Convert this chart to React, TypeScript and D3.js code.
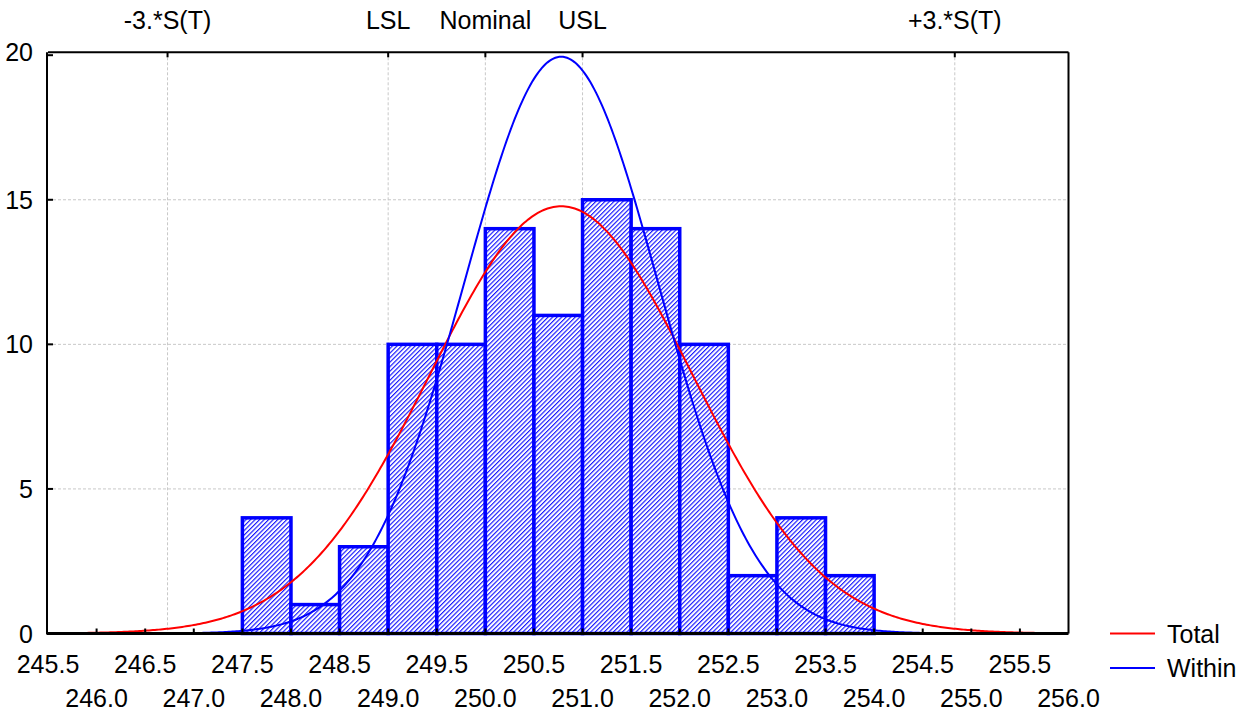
import React from "react";
import * as d3 from "d3";

const binStarts = [247.5, 248.0, 248.5, 249.0, 249.5, 250.0, 250.5, 251.0, 251.5, 252.0, 252.5, 253.0, 253.5];
const counts = [4, 1, 3, 10, 10, 14, 11, 15, 14, 10, 2, 4, 2];
const binWidth = 0.5;

const upperTickLabels = ["245.5", "246.5", "247.5", "248.5", "249.5", "250.5", "251.5", "252.5", "253.5", "254.5", "255.5"];
const lowerTickLabels = ["246.0", "247.0", "248.0", "249.0", "250.0", "251.0", "252.0", "253.0", "254.0", "255.0", "256.0"];
const yTicks = [0, 5, 10, 15, 20];

const specLabels = ["-3.*S(T)", "LSL", "Nominal", "USL", "+3.*S(T)"];
const specValues = [246.73, 249.0, 250.0, 251.0, 254.83];

const fitMean = 250.78;
const sigmaTotal = 1.35;
const sigmaWithin = 1.0;
const curveNames = ["Total", "Within"];
const curveColors = ["#ff0000", "#0000ff"];

const W = 1240;
const H = 711;
const FONT = "Arimo, 'Liberation Sans', Arial, sans-serif";

export default function App() {
  const x = d3.scaleLinear().domain([245.5, 256.0]).range([48, 1068.5]);
  const y = d3.scaleLinear().domain([0, 20.1]).range([633.5, 52.3]);
  const total = d3.sum(counts);
  const scaleFactor = total * binWidth;

  const pdf = (v: number, s: number) =>
    (scaleFactor / (s * Math.sqrt(2 * Math.PI))) * Math.exp(-0.5 * ((v - fitMean) / s) ** 2);

  const xs = d3.range(245.5, 256.0001, 0.02);
  const line = d3
    .line<number[]>()
    .x((d) => x(d[0]))
    .y((d) => y(d[1]));
  const curves = [sigmaTotal, sigmaWithin].map((s) => line(xs.map((v) => [v, pdf(v, s)])) as string);

  const bottomTicks = d3.range(246.0, 255.51, 0.5);
  const x0 = x.range()[0];
  const x1 = x.range()[1];
  const yBottom = y(0);
  const yTop = y.range()[1];

  return (
    <svg
      width={W}
      height={H}
      style={{ position: "absolute", left: 0, top: 0, background: "#fff" }}
      fontFamily={FONT}
    >
      <defs>
        <pattern id="hatch" patternUnits="userSpaceOnUse" width={3.2} height={3.2} patternTransform="rotate(45)">
          <rect width={3.2} height={3.2} fill="#ffffff" />
          <line x1={0.6} y1={0} x2={0.6} y2={3.2} stroke="#0000ff" strokeWidth={1.05} />
        </pattern>
        <clipPath id="plotClip">
          <rect x={x0} y={yTop} width={x1 - x0} height={yBottom - yTop} />
        </clipPath>
      </defs>

      {/* horizontal gridlines */}
      {yTicks
        .filter((t) => t > 0 && t < 20)
        .map((t) => (
          <line key={"hg" + t} x1={x0} x2={x1} y1={y(t)} y2={y(t)} stroke="#c8c8c8" strokeWidth={1} strokeDasharray="3,2" />
        ))}
      {/* spec vertical gridlines */}
      {specValues.map((v, i) => (
        <line key={"vg" + i} x1={x(v)} x2={x(v)} y1={yTop} y2={yBottom} stroke="#c8c8c8" strokeWidth={1} strokeDasharray="3,2" />
      ))}

      {/* bars */}
      {binStarts.map((b, i) => (
        <rect
          key={"bar" + i}
          x={x(b)}
          y={y(counts[i])}
          width={x(b + binWidth) - x(b)}
          height={yBottom - y(counts[i])}
          fill="url(#hatch)"
          stroke="#0000ff"
          strokeWidth={3.5}
        />
      ))}

      {/* curves */}
      <g clipPath="url(#plotClip)">
        {curves.map((d, i) => (
          <path key={"c" + i} d={d} fill="none" stroke={curveColors[i]} strokeWidth={2} />
        ))}
      </g>

      {/* frame */}
      <line x1={x0} x2={x1} y1={yTop} y2={yTop} stroke="#000" strokeWidth={2} />
      <line x1={x1} x2={x1} y1={yTop} y2={yBottom} stroke="#000" strokeWidth={2} />
      <line x1={x0 - 1} x2={x0 - 1} y1={yTop} y2={yBottom + 1} stroke="#000" strokeWidth={2} />
      <line x1={x0 - 1} x2={x1} y1={yBottom} y2={yBottom} stroke="#000" strokeWidth={3} />

      {/* bottom ticks (inside) */}
      {bottomTicks.map((t, i) => (
        <line key={"bt" + i} x1={x(t)} x2={x(t)} y1={yBottom} y2={yBottom - 5} stroke="#000" strokeWidth={2} />
      ))}
      {/* top spec ticks */}
      {specValues.map((v, i) => (
        <line key={"tt" + i} x1={x(v)} x2={x(v)} y1={yTop} y2={yTop + 5} stroke="#000" strokeWidth={2} />
      ))}
      {/* left ticks */}
      {yTicks.map((t) => (
        <line key={"lt" + t} x1={x0} x2={x0 + 5} y1={y(t)} y2={y(t)} stroke="#000" strokeWidth={2} />
      ))}

      {/* y labels */}
      {yTicks.map((t) => (
        <text key={"yl" + t} x={33} y={t === 20 ? 52 : y(t)} dy="0.36em" textAnchor="end" fontSize={25}>
          {t}
        </text>
      ))}

      {/* x labels */}
      {upperTickLabels.map((l) => (
        <text key={"ul" + l} x={x(+l)} y={673} textAnchor="middle" fontSize={25}>
          {l}
        </text>
      ))}
      {lowerTickLabels.map((l) => (
        <text key={"ll" + l} x={x(+l)} y={707} textAnchor="middle" fontSize={25}>
          {l}
        </text>
      ))}

      {/* spec labels */}
      {specLabels.map((l, i) => (
        <text key={"sl" + i} x={x(specValues[i])} y={28.5} textAnchor="middle" fontSize={25}>
          {l}
        </text>
      ))}

      {/* legend */}
      {curveNames.map((n, i) => (
        <g key={"lg" + n}>
          <line x1={1110} x2={1155} y1={633.5 + i * 34.5} y2={633.5 + i * 34.5} stroke={curveColors[i]} strokeWidth={2} />
          <text x={1167} y={633.5 + i * 34.5} dy="0.36em" fontSize={25}>
            {n}
          </text>
        </g>
      ))}
    </svg>
  );
}
